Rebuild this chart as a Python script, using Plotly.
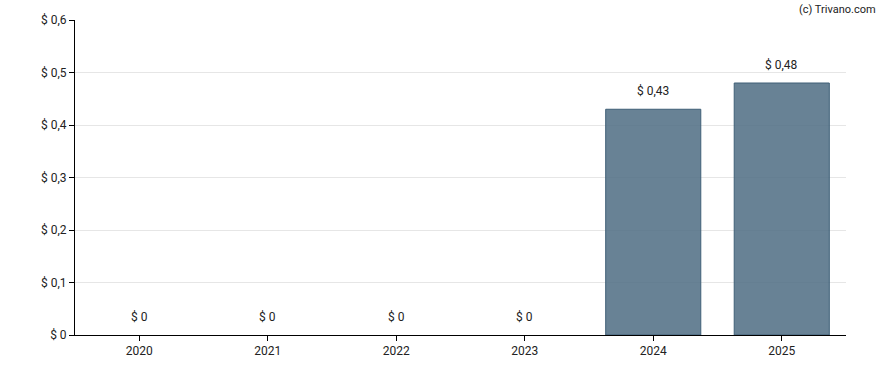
import plotly.graph_objects as go

years = ["2020", "2021", "2022", "2023", "2024", "2025"]
values = [0, 0, 0, 0, 0.43, 0.48]
labels = ["$ 0", "$ 0", "$ 0", "$ 0", "$ 0,43", "$ 0,48"]
y_ticks = [0, 0.1, 0.2, 0.3, 0.4, 0.5, 0.6]
y_tick_labels = ["$ 0", "$ 0,1", "$ 0,2", "$ 0,3", "$ 0,4", "$ 0,5", "$ 0,6"]

fig = go.Figure()
fig.add_trace(go.Bar(
    x=years, y=values, width=0.74,
    marker=dict(color="rgba(83,113,134,0.88)",
                line=dict(color="#3f5f77", width=[1 if v > 0 else 0 for v in values])),
    hoverinfo="skip",
))
for i, (v, t) in enumerate(zip(values, labels)):
    fig.add_annotation(x=i, y=v, text=t, showarrow=False, yanchor="bottom",
                       yshift=9, font=dict(family="Roboto", size=12, color="#222"))

fig.add_annotation(x=1, y=1, xref="paper", yref="paper", xanchor="right", yanchor="bottom",
                   xshift=32, yshift=2, text="(c) Trivano.com", showarrow=False,
                   font=dict(family="Roboto", size=11, color="#222"))

fig.update_layout(
    width=888, height=370,
    margin=dict(l=75, r=42, t=20, b=35),
    plot_bgcolor="white", paper_bgcolor="white",
    showlegend=False,
    font=dict(family="Roboto", size=12, color="#222"),
)
fig.update_xaxes(type="category", range=[-0.5, len(years) - 0.5],
                 showline=True, linecolor="black", linewidth=1, ticks="outside",
                 ticklen=5, tickcolor="black", showgrid=False,
                 tickfont=dict(family="Roboto", size=12, color="#222"))
fig.update_yaxes(range=[0, 0.6], tickvals=y_ticks, ticktext=y_tick_labels,
                 showline=True, linecolor="black", linewidth=1, ticks="outside",
                 ticklen=5, tickcolor="black", showgrid=True, gridcolor="#e6e6e6",
                 zeroline=False, tickfont=dict(family="Roboto", size=12, color="#222"))

fig.write_html("out.html", config={"displayModeBar": False},
               post_script="document.body.style.margin='0';")
